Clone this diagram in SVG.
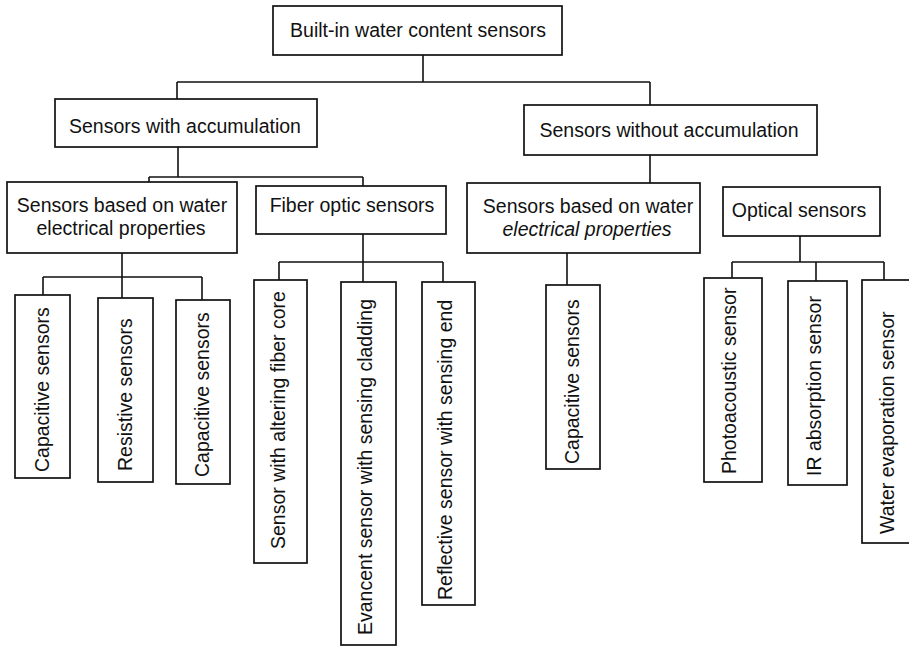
<svg xmlns="http://www.w3.org/2000/svg" width="909" height="649" viewBox="0 0 909 649">
<style>
.b{fill:#fff;stroke:#111;stroke-width:1.7}
.c{fill:none;stroke:#111;stroke-width:1.6}
text{font-family:"Liberation Sans",Arial,sans-serif;font-size:19.5px;fill:#111}
.m{text-anchor:middle}
.i{font-style:italic}
</style>
<rect width="909" height="649" fill="#fff"/>
<g id="connectors">
<path class="c" d="M423 55V82M177 82H650M177 82V99M650 82V105"/>
<path class="c" d="M178 147V177M149 177H363M149 177V182M363 177V186"/>
<path class="c" d="M650 155V183"/>
<path class="c" d="M122 253V277M43 277H202M43 277V295M122 277V298M202 277V300"/>
<path class="c" d="M363 234V262M279 262H443M279 262V280M363 262V282M443 262V282"/>
<path class="c" d="M567 253V285"/>
<path class="c" d="M800 236V262M732 262H884M732 262V278M816 262V281M884 262V280"/>
</g>
<g id="root"><rect class="b" x="273" y="6" width="289" height="49"/><text class="m" x="418" y="37">Built-in water content sensors</text></g>
<g id="with-acc"><rect class="b" x="55" y="99" width="262" height="48"/><text class="m" x="185" y="133">Sensors with accumulation</text></g>
<g id="without-acc"><rect class="b" x="524" y="105" width="293" height="50"/><text class="m" x="669" y="137">Sensors without accumulation</text></g>
<g id="elec-left"><rect class="b" x="7" y="182" width="230" height="71"/><text class="m" x="122" y="212">Sensors based on water</text><text class="m" x="121" y="235">electrical properties</text></g>
<g id="fiber"><rect class="b" x="256" y="186" width="190" height="48"/><text class="m" x="352" y="212">Fiber optic sensors</text></g>
<g id="elec-right"><rect class="b" x="467" y="183" width="233" height="70"/><text class="m" x="588" y="213">Sensors based on water</text><text class="m i" x="587" y="236">electrical properties</text></g>
<g id="optical"><rect class="b" x="723" y="187" width="157" height="49"/><text class="m" x="799" y="217">Optical sensors</text></g>
<g id="cap1"><rect class="b" x="15" y="295" width="55" height="183"/><text transform="translate(49 472) rotate(-90)">Capacitive sensors</text></g>
<g id="res"><rect class="b" x="98" y="298" width="55" height="184"/><text transform="translate(132 471) rotate(-90)">Resistive sensors</text></g>
<g id="cap2"><rect class="b" x="176" y="300" width="54" height="184"/><text transform="translate(209 477) rotate(-90)">Capacitive sensors</text></g>
<g id="core"><rect class="b" x="254" y="280" width="53" height="283"/><text transform="translate(285 549) rotate(-90)">Sensor with altering fiber core</text></g>
<g id="evan"><rect class="b" x="341" y="282" width="55" height="363"/><text transform="translate(372 635) rotate(-90)">Evancent sensor with sensing cladding</text></g>
<g id="refl"><rect class="b" x="422" y="282" width="53" height="323"/><text transform="translate(452 600) rotate(-90)">Reflective sensor with sensing end</text></g>
<g id="cap3"><rect class="b" x="546" y="285" width="54" height="184"/><text transform="translate(579 464) rotate(-90)">Capacitive sensors</text></g>
<g id="photo"><rect class="b" x="704" y="278" width="58" height="204"/><text transform="translate(736 474) rotate(-90)">Photoacoustic sensor</text></g>
<g id="ir"><rect class="b" x="788" y="281" width="59" height="204"/><text transform="translate(821 476) rotate(-90)">IR absorption sensor</text></g>
<g id="evap"><rect class="b" x="862" y="280" width="60" height="263"/><text transform="translate(894 534) rotate(-90)">Water evaporation sensor</text></g>
</svg>
